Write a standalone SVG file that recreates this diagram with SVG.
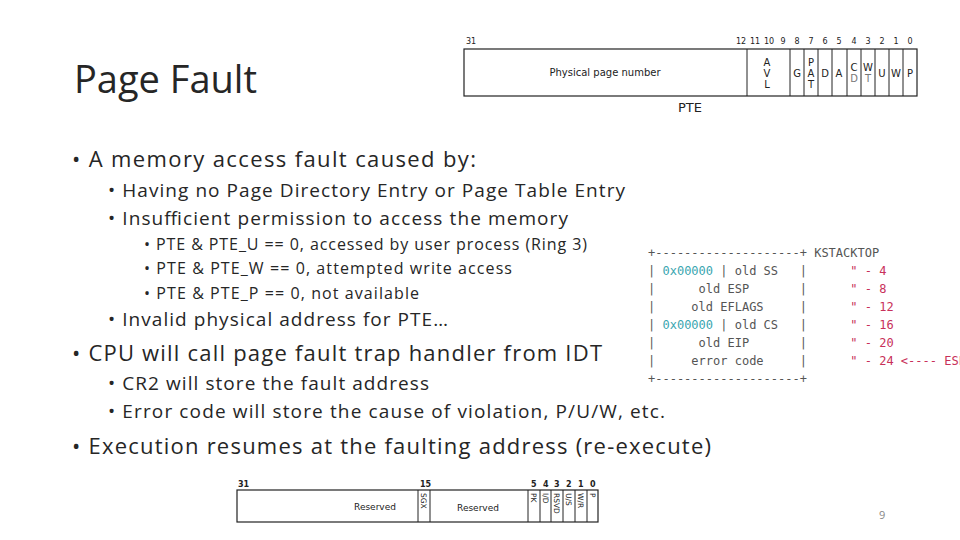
<svg xmlns="http://www.w3.org/2000/svg" width="960" height="540" viewBox="0 0 960 540">
<style>
.t{font-family:"Open Sans","Noto Sans",sans-serif;fill:#262626}
.s{font-family:"DejaVu Sans","Liberation Sans",sans-serif;fill:#222}
.m{font-family:"DejaVu Sans Mono","Liberation Mono",monospace;font-size:12px;fill:#555;white-space:pre}
.c{fill:#3aa6b0}.r{fill:#c8305a}
.b{fill:#fff;stroke:#222;stroke-width:1.2}
.l{stroke:#222;stroke-width:1}
</style>
<rect width="960" height="540" fill="#fff"/>
<g id="title"><text class="t" x="74" y="93" font-size="38">Page Fault</text></g>
<g id="bullets" class="t">
<text x="72" y="167" font-size="22" textLength="404" lengthAdjust="spacing">• A memory access fault caused by:</text>
<text x="108" y="197" font-size="19" textLength="517" lengthAdjust="spacing">• Having no Page Directory Entry or Page Table Entry</text>
<text x="108" y="225" font-size="19" textLength="460" lengthAdjust="spacing">• Insufficient permission to access the memory</text>
<text x="144" y="250" font-size="16" textLength="443" lengthAdjust="spacing">• PTE &amp; PTE_U == 0, accessed by user process (Ring 3)</text>
<text x="144" y="274" font-size="16" textLength="368" lengthAdjust="spacing">• PTE &amp; PTE_W == 0, attempted write access</text>
<text x="144" y="299" font-size="16" textLength="275" lengthAdjust="spacing">• PTE &amp; PTE_P == 0, not available</text>
<text x="108" y="326" font-size="19" textLength="340" lengthAdjust="spacing">• Invalid physical address for PTE…</text>
<text x="72" y="361" font-size="22" textLength="530" lengthAdjust="spacing">• CPU will call page fault trap handler from IDT</text>
<text x="108" y="390" font-size="19" textLength="321" lengthAdjust="spacing">• CR2 will store the fault address</text>
<text x="108" y="418" font-size="19" textLength="557" lengthAdjust="spacing">• Error code will store the cause of violation, P/U/W, etc.</text>
<text x="72" y="454" font-size="22" textLength="639" lengthAdjust="spacing">• Execution resumes at the faulting address (re-execute)</text>
<text x="879" y="519" font-size="11" fill="#888">9</text>
</g>
<g id="pte">
<rect class="b" x="464" y="49" width="453" height="47"/>
<g class="l"><line x1="747" y1="49" x2="747" y2="96"/><line x1="790" y1="49" x2="790" y2="96"/><line x1="804" y1="49" x2="804" y2="96"/><line x1="818" y1="49" x2="818" y2="96"/><line x1="832" y1="49" x2="832" y2="96"/><line x1="847" y1="49" x2="847" y2="96"/><line x1="861" y1="49" x2="861" y2="96"/><line x1="875" y1="49" x2="875" y2="96"/><line x1="889" y1="49" x2="889" y2="96"/><line x1="903" y1="49" x2="903" y2="96"/></g>
<g class="s" font-size="8" text-anchor="middle"><text x="471" y="44">31</text><text x="741" y="44">12</text><text x="755" y="44">11</text><text x="769" y="44">10</text><text x="783" y="44">9</text><text x="797" y="44">8</text><text x="811" y="44">7</text><text x="825" y="44">6</text><text x="839" y="44">5</text><text x="854" y="44">4</text><text x="868" y="44">3</text><text x="882" y="44">2</text><text x="896" y="44">1</text><text x="910" y="44">0</text></g>
<g class="s" font-size="10" text-anchor="middle">
<text x="605" y="76">Physical page number</text>
<text x="767" y="66">A</text><text x="767" y="77">V</text><text x="767" y="88">L</text>
<text x="797" y="77">G</text>
<text x="811" y="66">P</text><text x="811" y="77">A</text><text x="811" y="88">T</text>
<text x="825" y="77">D</text><text x="839" y="77">A</text>
<text x="854" y="71">C</text><text x="854" y="82" fill="#777">D</text>
<text x="868" y="71">W</text><text x="868" y="82" fill="#777">T</text>
<text x="882" y="77">U</text><text x="896" y="77">W</text><text x="910" y="77">P</text>
<text x="690" y="112" font-size="13">PTE</text></g>
</g>
<g id="stack">
<text class="m" x="648" y="257">+--------------------+ KSTACKTOP</text>
<text class="m" x="648" y="275">| <tspan class="c">0x00000</tspan> | old SS   |      <tspan class="r">" - 4</tspan></text>
<text class="m" x="648" y="293">|      old ESP       |      <tspan class="r">" - 8</tspan></text>
<text class="m" x="648" y="311">|     old EFLAGS     |      <tspan class="r">" - 12</tspan></text>
<text class="m" x="648" y="329">| <tspan class="c">0x00000</tspan> | old CS   |      <tspan class="r">" - 16</tspan></text>
<text class="m" x="648" y="347">|      old EIP       |      <tspan class="r">" - 20</tspan></text>
<text class="m" x="648" y="365">|     error code     |      <tspan class="r">" - 24 &lt;---- ESP</tspan></text>
<text class="m" x="648" y="383">+--------------------+</text>
</g>
<g id="errcode">
<rect class="b" x="237" y="490" width="361" height="32"/>
<g class="l"><line x1="418" y1="490" x2="418" y2="522"/><line x1="430" y1="490" x2="430" y2="522"/><line x1="528" y1="490" x2="528" y2="522"/><line x1="540" y1="490" x2="540" y2="522"/><line x1="551" y1="490" x2="551" y2="522"/><line x1="563" y1="490" x2="563" y2="522"/><line x1="575" y1="490" x2="575" y2="522"/><line x1="587" y1="490" x2="587" y2="522"/></g>
<g class="s" font-size="8" font-weight="bold"><text x="238" y="487">31</text><text x="420" y="487">15</text><text x="531" y="487">5</text><text x="543" y="487">4</text><text x="554" y="487">3</text><text x="566" y="487">2</text><text x="578" y="487">1</text><text x="590" y="487">0</text></g>
<g class="s" font-size="9" text-anchor="middle"><text x="375" y="510">Reserved</text><text x="478" y="511">Reserved</text></g>
<g class="s" font-size="7.5">
<text transform="translate(421,493) rotate(90)">SGX</text>
<text transform="translate(531,493) rotate(90)">PK</text>
<text transform="translate(543,493) rotate(90)">I/D</text>
<text transform="translate(554,493) rotate(90)">RSVD</text>
<text transform="translate(566,493) rotate(90)">U/S</text>
<text transform="translate(578,493) rotate(90)">W/R</text>
<text transform="translate(590,493) rotate(90)">P</text></g>
</g>
</svg>
